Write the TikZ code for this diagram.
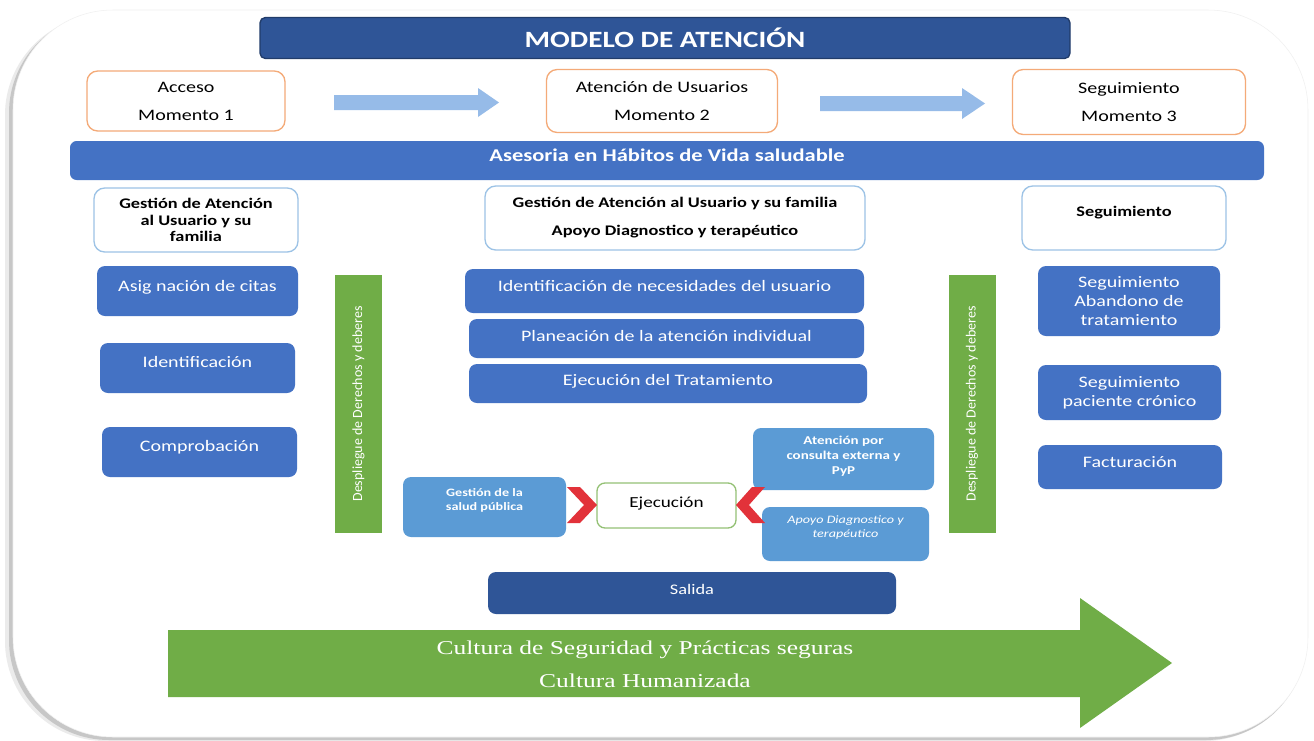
\documentclass[tikz,border=0pt]{standalone}
\usepackage{fontspec}
\setmainfont{Carlito}[FakeStretch=1.25]
\newfontfamily\flatfont{Carlito}
\newfontfamily\culturafont{Liberation Serif}[FakeStretch=1.3]

\definecolor{modelblue}{RGB}{47,85,151}
\definecolor{boxblue}{RGB}{68,114,196}
\definecolor{lightblue}{RGB}{91,155,213}
\definecolor{paleblue}{RGB}{157,195,230}
\definecolor{arrowblue}{RGB}{150,187,232}
\definecolor{momorange}{RGB}{244,170,120}
\definecolor{leafgreen}{RGB}{112,173,71}
\definecolor{chevred}{RGB}{226,50,58}
\newcommand{\fsz}[2]{\fontsize{#1}{#2}\selectfont}

\begin{document}
\begin{tikzpicture}[x=0.75pt,y=0.75pt,yscale=-1,xscale=1,
    bluebox/.style={fill=boxblue,rounded corners=6pt,inner sep=0pt,text=white,align=center,font=\fsz{12}{14.25}},
    lightbox/.style={fill=lightblue,rounded corners=6pt,inner sep=0pt,text=white,align=center},
    momentbox/.style={draw=momorange,line width=1pt,fill=white,rounded corners=8pt,inner sep=0pt,align=center,font=\fsz{12}{21}},
    headbox/.style={draw=paleblue,line width=1pt,fill=white,rounded corners=8pt,inner sep=0pt,align=center,font=\bfseries\fsz{11}{12.4}},
    rightsbar/.style={fill=leafgreen,inner sep=0pt,rotate=90,text=white,minimum width=193.5pt,minimum height=35.25pt,font=\flatfont\fsz{10.5}{12}},
    lift/.style 2 args={text height=#1,text depth=#2}]
\useasboundingbox (0,0) rectangle (1314,740);
\fill[white] (0,0) rectangle (1314,740);

%Shape: Rounded Rect (frame with shadow)
\fill[black!8,rounded corners=75pt] (5,15) rectangle (1304,741);
\fill[black!22,rounded corners=75pt] (9,13) rectangle (1306,740);
\filldraw[fill=white,draw=black!6,rounded corners=75pt] (13,10) rectangle (1308,737);

%Shape: Rectangle (title)
\node[fill=modelblue,draw=modelblue!70!black,line width=1pt,rounded corners=4pt,minimum width=607.5pt,minimum height=30.75pt,text=white,font=\bfseries\fsz{17.5}{20}] (title) at (665,38) {MODELO DE ATENCIÓN};

%Shape: Rounded Rect (momentos)
\node[momentbox,minimum width=148.5pt,minimum height=45pt] (acceso) at (186,101) {Acceso\\Momento 1};
\node[momentbox,minimum width=173.25pt,minimum height=47.25pt] (atencion) at (662,101) {Atención de Usuarios\\Momento 2};
\node[momentbox,minimum width=174.75pt,minimum height=48.75pt] (seguim) at (1129,102) {Seguimiento\\Momento 3};

%Shape: Right Arrow
\fill[arrowblue] (334,95) -- (478,95) -- (478,88) -- (499,102.5) -- (478,117) -- (478,110) -- (334,110) -- cycle;
%Shape: Right Arrow
\fill[arrowblue] (820,96) -- (962,96) -- (962,88) -- (985,103.5) -- (962,119) -- (962,111) -- (820,111) -- cycle;

%Shape: Rectangle (habitos)
\node[bluebox,rounded corners=5pt,minimum width=895.5pt,minimum height=29.25pt,font=\bfseries\fsz{13.5}{16},lift={9pt}{8.2pt}] (habitos) at (667,160.5) {Asesoria en Hábitos de Vida saludable};

%Shape: Rounded Rect (gestion)
\node[headbox,minimum width=153pt,minimum height=48pt] (gestacc) at (196,220) {Gestión de Atención\\al Usuario y su\\familia};
\node[headbox,minimum width=285pt,minimum height=48pt,font=\bfseries\fsz{11}{21}] (gestatn) at (675,218) {Gestión de Atención al Usuario y su familia\\Apoyo Diagnostico y terapéutico};
\node[headbox,minimum width=153pt,minimum height=48pt,lift={7pt}{9pt}] (gestseg) at (1124,218) {Seguimiento};

%Shape: Rectangle (acceso)
\node[bluebox,minimum width=150.75pt,minimum height=37.5pt,lift={7.7pt}{7.5pt}] (citas) at (197.5,291) {Asig nación de citas};
\node[bluebox,minimum width=146.25pt,minimum height=37.5pt,lift={7.7pt}{9pt}] (ident) at (197.5,368) {Identificación};
\node[bluebox,minimum width=146.25pt,minimum height=37.5pt,lift={7.7pt}{9pt}] (compro) at (199.5,452) {Comprobación};

%Shape: Rectangle (derechos)
\node[rightsbar] (derizq) at (358.5,404) {Despliegue de Derechos y deberes};
\node[rightsbar] (derder) at (972,404) {Despliegue de Derechos y deberes};

%Shape: Rectangle (atencion)
\node[bluebox,minimum width=299.25pt,minimum height=33pt,lift={7.7pt}{7.5pt}] (necesid) at (664.5,291) {Identificación de necesidades del usuario};
\node[bluebox,minimum width=296.25pt,minimum height=29.25pt,lift={7.7pt}{3.75pt}] (planea) at (666.5,338.5) {Planeación de la atención individual};
\node[bluebox,minimum width=298.5pt,minimum height=29.25pt,lift={7.7pt}{5.25pt}] (ejectrat) at (668,383.5) {Ejecución del Tratamiento};

%Shape: Rectangle (seguimiento)
\node[bluebox,minimum width=136.5pt,minimum height=52.5pt] (abandono) at (1129,301) {Seguimiento\\Abandono de\\tratamiento};
\node[bluebox,minimum width=137.25pt,minimum height=41.25pt] (cronico) at (1129.5,392.5) {Seguimiento\\paciente crónico};
\node[bluebox,minimum width=138pt,minimum height=33pt,lift={7.7pt}{7.5pt}] (factur) at (1130,467) {Facturación};

%Shape: Rectangle (ejecucion)
\node[lightbox,minimum width=122.25pt,minimum height=45pt,font=\bfseries\fsz{8.5}{10.5},lift={16pt}{11.2pt}] (saludp) at (484.5,507) {Gestión de la\\salud pública};
\node[draw=leafgreen!75,line width=1pt,fill=white,rounded corners=6pt,inner sep=0pt,minimum width=104.25pt,minimum height=33.75pt,font=\fsz{11.5}{14},lift={8pt}{5.25pt}] (ejec) at (666.5,505.5) {Ejecución};
\node[lightbox,minimum width=135.75pt,minimum height=46.5pt,font=\bfseries\fsz{9}{11.25},lift={28.3pt}{4.5pt}] (consulta) at (843.5,459) {Atención por\\consulta externa y\\PyP};
\node[lightbox,minimum width=125.25pt,minimum height=40.5pt,font=\itshape\fsz{8.5}{10.5},lift={16pt}{10.5pt}] (apoyo) at (845.5,534) {Apoyo Diagnostico y\\terapéutico};

%Shape: Chevron
\fill[chevred] (567,487) -- (580,487) -- (597,505) -- (580,523) -- (567,523) -- (584,505) -- cycle;
%Shape: Chevron
\fill[chevred] (765,487) -- (752,487) -- (736,505) -- (752,523) -- (765,523) -- (749,505) -- cycle;

%Shape: Rectangle (salida)
\node[fill=modelblue,rounded corners=6pt,inner sep=0pt,minimum width=306pt,minimum height=31.5pt,text=white,font=\fsz{11}{13},lift={7.5pt}{6pt}] (salida) at (692,593) {Salida};

%Shape: Right Arrow (cultura)
\fill[leafgreen] (168,630) -- (1080,630) -- (1080,598) -- (1172,663) -- (1080,728) -- (1080,697) -- (168,697) -- cycle;
\node[text=white,align=center,font=\culturafont\fsz{14.7}{24.75}] (cultura) at (645,664) {Cultura de Seguridad y Prácticas seguras\\Cultura Humanizada};

\end{tikzpicture}
\end{document}
